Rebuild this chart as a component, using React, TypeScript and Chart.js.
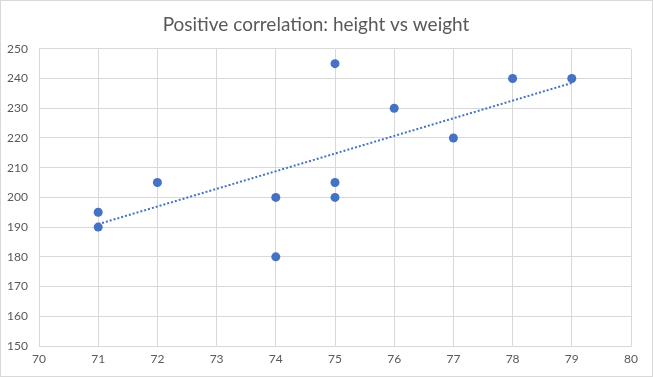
import React, { useEffect, useRef } from "react";
import { Chart, registerables } from "chart.js";

Chart.register(...registerables);

const heights = [71, 71, 72, 74, 74, 75, 75, 75, 76, 77, 78, 79];
const weights = [195, 190, 205, 200, 180, 245, 205, 200, 230, 220, 240, 240];
const trendX = [71, 79];
const trendY = [191, 238.5];
const titleText = "Positive correlation: height vs weight";

export default function App() {
  const ref = useRef<HTMLCanvasElement | null>(null);
  useEffect(() => {
    document.body.style.margin = "0";
    const ctx = ref.current!;
    const blue = "#4472C4";
    const grid = "#d9d9d9";
    const chart = new Chart(ctx, {
      type: "scatter",
      data: {
        datasets: [
          {
            label: "Weight",
            data: heights.map((h, i) => ({ x: h, y: weights[i] })),
            backgroundColor: blue,
            borderColor: blue,
            pointRadius: 4.5,
            pointBorderWidth: 0,
            order: 1,
          },
          {
            label: "Trend",
            type: "line",
            data: trendX.map((x, i) => ({ x, y: trendY[i] })),
            borderColor: blue,
            borderWidth: 2,
            borderDash: [2, 2],
            pointRadius: 0,
            fill: false,
            order: 2,
          } as any,
        ],
      },
      options: {
        animation: false,
        responsive: false,
        maintainAspectRatio: false,
        layout: { padding: { left: 0, right: 21, top: 0, bottom: 0 } },
        plugins: {
          legend: { display: false },
          tooltip: { enabled: false },
          title: {
            display: true,
            text: titleText,
            color: "#595959",
            font: { family: "Lato, 'Open Sans', sans-serif", size: 19, weight: "normal" },
            padding: { top: 12, bottom: 13 },
          },
        },
        scales: {
          x: {
            type: "linear",
            min: 70,
            max: 80,
            ticks: {
              stepSize: 1,
              color: "#595959",
              font: { family: "Lato, 'Open Sans', sans-serif", size: 12 },
              padding: 6,
            },
            grid: { color: grid, drawTicks: false },
            border: { color: grid },
            afterFit: (s: any) => {
              s.height = 30;
            },
          },
          y: {
            type: "linear",
            min: 150,
            max: 250,
            ticks: {
              stepSize: 10,
              color: "#595959",
              font: { family: "Lato, 'Open Sans', sans-serif", size: 12 },
              padding: 11,
            },
            grid: { color: grid, drawTicks: false },
            border: { color: grid },
            afterFit: (s: any) => {
              s.width = 38;
            },
          },
        },
      },
    });
    return () => chart.destroy();
  }, []);
  return (
    <div
      style={{
        position: "relative",
        width: 653,
        height: 377,
        boxSizing: "border-box",
        border: "1px solid #d9d9d9",
        background: "#fff",
      }}
    >
      <canvas ref={ref} width={651} height={375} style={{ display: "block" }} />
    </div>
  );
}
